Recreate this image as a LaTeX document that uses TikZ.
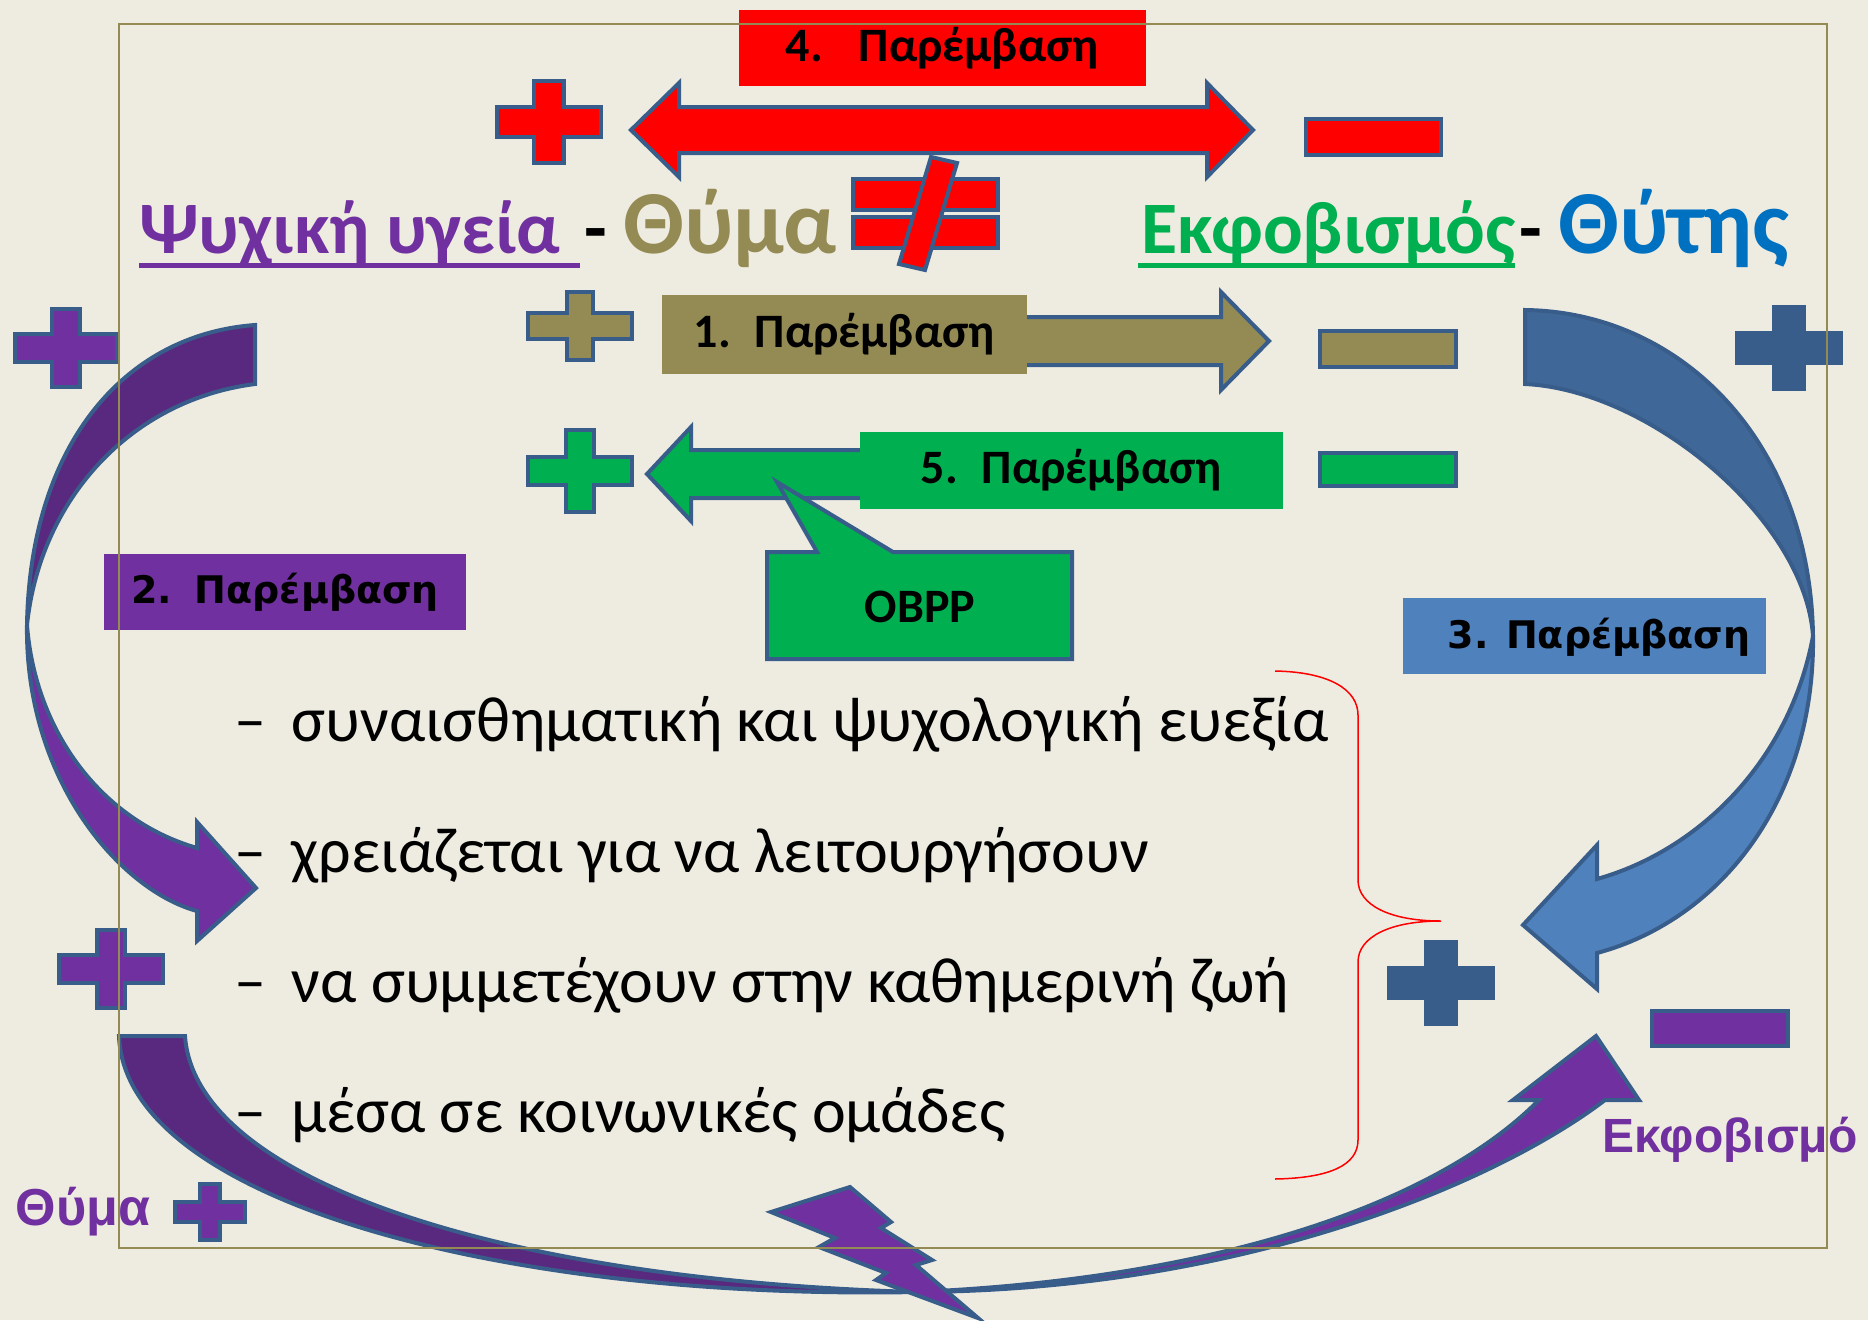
\documentclass[tikz,border=0pt]{standalone}
\usepackage{fontspec}
\setmainfont{Carlito}
\newfontfamily\verdana{DejaVu Sans}
\newfontfamily\arialfont{Liberation Sans}
\usepackage{tikz}
\usetikzlibrary{positioning}
\definecolor{paper}{RGB}{238,236,225}
\definecolor{framecol}{RGB}{148,138,84}
\definecolor{edgeblue}{RGB}{56,93,138}
\definecolor{redfill}{RGB}{255,0,0}
\definecolor{olivefill}{RGB}{148,138,84}
\definecolor{grnfill}{RGB}{0,176,80}
\definecolor{purpfill}{RGB}{112,48,160}
\definecolor{purpdark}{RGB}{89,41,128}
\definecolor{bluelight}{RGB}{79,129,189}
\definecolor{bluedark}{RGB}{63,103,151}
\definecolor{bluetxt}{RGB}{0,112,192}
\tikzset{shapeline/.style = {draw = edgeblue, line width = 4}}
\tikzset{labelbox/.style = {inner sep = 0, font = \bfseries\fontsize{48}{50}\selectfont}}
\tikzset{widebox/.style = {inner sep = 0, font = \verdana\bfseries\fontsize{38}{40}\selectfont}}
\tikzset{bullet/.style = {anchor = base west, inner sep = 0, font = \fontsize{64}{68}\selectfont}}
\tikzset{title/.style = {anchor = base west, inner sep = 0, font = \bfseries\fontsize{74}{78}\selectfont}}
\tikzset{bigtitle/.style = {anchor = base west, inner sep = 0, font = \bfseries\fontsize{90}{92}\selectfont}}
\tikzset{sidelabel/.style = {inner sep = 0, text = purpfill, font = \arialfont\bfseries\fontsize{48}{50}\selectfont}}
\newcommand{\plussign}[6]{%
  \filldraw[shapeline, #6] (#1-#3,#2-#5) -- (#1-#5,#2-#5) -- (#1-#5,#2-#4) -- (#1+#5,#2-#4)
    -- (#1+#5,#2-#5) -- (#1+#3,#2-#5) -- (#1+#3,#2+#5) -- (#1+#5,#2+#5) -- (#1+#5,#2+#4)
    -- (#1-#5,#2+#4) -- (#1-#5,#2+#5) -- (#1-#3,#2+#5) -- cycle;}
\newcommand{\minussign}[5]{\filldraw[shapeline, fill = #5] (#1,#2) rectangle (#3,#4);}

\begin{document}
\begin{tikzpicture}[x = 1pt, y = -1pt]
  \useasboundingbox[fill = paper] (0,0) rectangle (1868,1320);

  \filldraw[shapeline, fill = purpdark] (255,325) .. controls (120,335) and (30,450) .. (27,625)
    .. controls (40,500) and (130,400) .. (255,384) -- cycle;
  \filldraw[shapeline, fill = purpfill] (27,625) .. controls (25,780) and (120,890) .. (197,911)
    -- (197,941) -- (256,888) -- (197,822) -- (197,848)
    .. controls (100,820) and (35,730) .. (27,625) -- cycle;

  \filldraw[shapeline, fill = bluedark] (1525,310) .. controls (1680,312) and (1810,440) .. (1813,636)
    .. controls (1805,520) and (1650,390) .. (1525,384) -- cycle;
  \filldraw[shapeline, fill = bluelight] (1813,636) .. controls (1815,800) and (1720,920) .. (1597,953)
    -- (1597,989) -- (1523,925) -- (1597,845) -- (1597,879)
    .. controls (1700,850) and (1790,760) .. (1813,636) -- cycle;

  \filldraw[shapeline, fill = purpdark] (119,1036) -- (185,1036) .. controls (195,1180) and (500,1280) .. (916,1292)
    .. controls (500,1300) and (125,1200) .. (119,1036) -- cycle;
  \filldraw[shapeline, fill = purpfill] (916,1292) .. controls (1250,1290) and (1500,1180) .. (1605,1100)
    -- (1639,1100) -- (1596,1036) -- (1513,1100) -- (1539,1100)
    .. controls (1430,1210) and (1200,1280) .. (916,1292) -- cycle;
  \filldraw[shapeline, fill = purpfill] (850,1187) -- (891,1222) -- (881,1228) -- (932,1260) -- (916,1265)
    -- (978,1318) -- (876,1280) -- (886,1273) -- (819,1247) -- (835,1238) -- (771,1212) -- cycle;

  \plussign{549}{122}{52}{41}{15}{fill = redfill}
  \plussign{580}{326}{52}{34}{13}{fill = olivefill}
  \plussign{580}{471}{52}{41}{14}{fill = grnfill}
  \plussign{66}{348}{51}{39}{14}{fill = purpfill}
  \plussign{1789}{348}{52}{41}{15}{fill = edgeblue}
  \plussign{1441}{983}{52}{41}{15}{fill = edgeblue}
  \plussign{111}{969}{52}{39}{14}{fill = purpfill}
  \plussign{210}{1212}{35}{28}{10}{fill = purpfill}

  \minussign{1306}{119}{1441}{155}{redfill}
  \minussign{1320}{331}{1456}{367}{olivefill}
  \minussign{1320}{453}{1456}{486}{grnfill}
  \minussign{1652}{1011}{1788}{1046}{purpfill}

  \filldraw[shapeline, fill = redfill] (631,130) -- (679,83) -- (679,107) -- (1207,107) -- (1207,83)
    -- (1253,130) -- (1207,177) -- (1207,153) -- (679,153) -- (679,177) -- cycle;
  \filldraw[shapeline, fill = redfill] (853,179) rectangle (998,210);
  \filldraw[shapeline, fill = redfill] (853,217) rectangle (998,248);
  \filldraw[shapeline, fill = redfill] (931,157) -- (957,163) -- (925,270) -- (899,264) -- cycle;

  \filldraw[shapeline, fill = olivefill] (900,317) -- (1221,317) -- (1221,292) -- (1269,341)
    -- (1221,390) -- (1221,365) -- (900,365) -- cycle;
  \filldraw[shapeline, fill = grnfill] (647,474) -- (691,427) -- (691,450) -- (900,450)
    -- (900,498) -- (691,498) -- (691,521) -- cycle;

  \node[labelbox, fill = redfill, minimum width = 407pt, minimum height = 76pt] (int4) at (942,48)
    {4.\hspace{0.75em}Παρέμβαση};
  \node[labelbox, fill = olivefill, minimum width = 365pt, minimum height = 79pt] (int1) at (844,334)
    {1.\hspace{0.5em}Παρέμβαση};
  \node[labelbox, fill = grnfill, minimum width = 423pt, minimum height = 77pt] (int5) at (1071,470)
    {5.\hspace{0.5em}Παρέμβαση};
  \node[widebox, fill = purpfill, minimum width = 362pt, minimum height = 76pt] (int2) at (285,592)
    {2.\hspace{0.6em}Παρέμβαση};
  \node[widebox, fill = bluelight, minimum width = 363pt, minimum height = 76pt] (int3) at (1584,636) {};
  \node[widebox] (int3text) at (1599,637) {3. Παρέμβαση};

  \filldraw[shapeline, fill = grnfill] (767,552) -- (817,552) -- (777,482) -- (893,552) -- (1072,552)
    -- (1072,659) -- (767,659) -- cycle;
  \node[labelbox] (obpp) at (920,607) {OBPP};

  \node[title, text = purpfill] (health) at (139,253) {Ψυχική υγεία};
  \node[title] (sepA) at (584,253) {-};
  \node[bigtitle, text = olivefill] (victim) at (623,253) {Θύμα};
  \node[title, text = grnfill] (bullying) at (1141,253) {Εκφοβισμός};
  \node[title] (sepB) at (1519,253) {-};
  \node[bigtitle, text = bluetxt] (bully) at (1558,253) {Θύτης};
  \draw[purpfill, line width = 5] (139,265) -- (580,265);
  \draw[grnfill, line width = 5] (1138,265) -- (1515,265);

  \node[bullet] (line1) at (234,741) {–\hspace{0.4em}συναισθηματική και ψυχολογική ευεξία};
  \node[bullet] (line2) at (234,872) {–\hspace{0.4em}χρειάζεται για να λειτουργήσουν};
  \node[bullet] (line3) at (234,1002) {–\hspace{0.4em}να συμμετέχουν στην καθημερινή ζωή};
  \node[bullet] (line4) at (234,1132) {–\hspace{0.4em}μέσα σε κοινωνικές ομάδες};

  \draw[redfill, line width = 1.5] (1275,671) .. controls (1330,672) and (1358,690) .. (1358,715)
    -- (1358,880) .. controls (1358,905) and (1390,921) .. (1441,921)
    .. controls (1390,921) and (1358,937) .. (1358,962)
    -- (1358,1140) .. controls (1358,1165) and (1330,1178) .. (1275,1179);

  \node[sidelabel] (lblbullying) at (1730,1140) {Εκφοβισμό};
  \node[sidelabel, font = \arialfont\bfseries\fontsize{52}{54}\selectfont] (lblvictim) at (83,1212) {Θύμα};

  \draw[framecol, line width = 2] (119,24) rectangle (1827,1248);
\end{tikzpicture}
\end{document}
